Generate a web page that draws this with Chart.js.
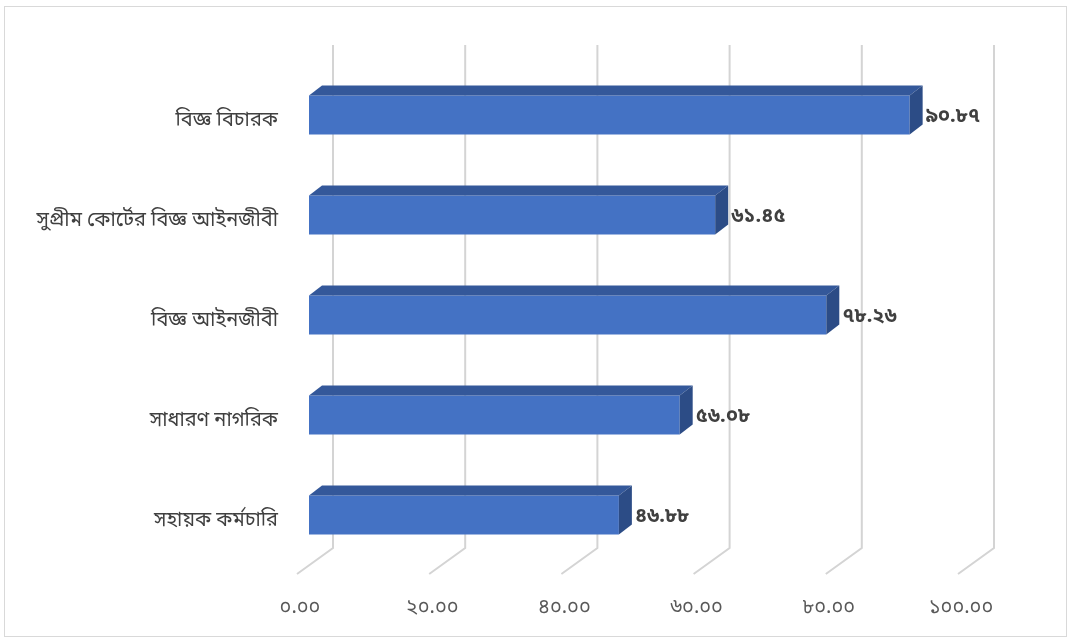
<!DOCTYPE html>
<html>
<head>
<meta charset="utf-8">
<script src="https://cdn.jsdelivr.net/npm/chart.js@4.4.1/dist/chart.umd.min.js"></script>
<style>
  html, body { margin: 0; padding: 0; background: #fff; }
  #wrap { width: 1070px; height: 642px; }
</style>
</head>
<body>
<div id="wrap"><canvas id="myChart" width="1070" height="642"></canvas></div>
<script>
var categories = ['বিজ্ঞ বিচারক', 'সুপ্রীম কোর্টের বিজ্ঞ আইনজীবী', 'বিজ্ঞ আইনজীবী', 'সাধারণ নাগরিক', 'সহায়ক কর্মচারি'];
var values = [90.87, 61.45, 78.26, 56.08, 46.88];
var tickLabels = ['০.০০', '২০.০০', '৪০.০০', '৬০.০০', '৮০.০০', '১০০.০০'];

var FONT = '"Noto Sans Bengali", "Noto Sans", "DejaVu Sans", sans-serif';
var bnDigits = '০১২৩৪৫৬৭৮৯';
function toBn(s) {
  return String(s).replace(/[0-9]/g, function (d) { return bnDigits[+d]; });
}

// depth of the 3d look
var DX = 13, DY = -10;

var frame3d = {
  id: 'frame3d',
  beforeDraw: function (chart) {
    var ctx = chart.ctx;
    ctx.save();
    ctx.strokeStyle = '#d9d9d9';
    ctx.lineWidth = 1;
    ctx.strokeRect(4.5, 6.5, 1062, 630);
    ctx.restore();
  },
  beforeDatasetsDraw: function (chart) {
    var ctx = chart.ctx;
    var xs = chart.scales.x;
    var area = chart.chartArea;
    ctx.save();
    ctx.strokeStyle = '#d4d4d4';
    ctx.lineWidth = 2;
    xs.ticks.forEach(function (t) {
      var px = xs.getPixelForValue(t.value);
      ctx.beginPath();
      ctx.moveTo(px + 24, area.top - 20);
      ctx.lineTo(px + 24, area.bottom - 17);
      ctx.lineTo(px - 12, area.bottom + 9);
      ctx.stroke();
    });
    ctx.restore();
  },
  afterDatasetsDraw: function (chart) {
    var ctx = chart.ctx;
    var meta = chart.getDatasetMeta(0);
    ctx.save();
    meta.data.forEach(function (bar, i) {
      var top = bar.y - bar.height / 2;
      var bottom = bar.y + bar.height / 2;
      // top face
      ctx.fillStyle = '#34589a';
      ctx.beginPath();
      ctx.moveTo(bar.base, top);
      ctx.lineTo(bar.base + DX, top + DY);
      ctx.lineTo(bar.x + DX, top + DY);
      ctx.lineTo(bar.x, top);
      ctx.closePath();
      ctx.fill();
      // side face
      ctx.fillStyle = '#2c4c86';
      ctx.beginPath();
      ctx.moveTo(bar.x, top);
      ctx.lineTo(bar.x + DX, top + DY);
      ctx.lineTo(bar.x + DX, bottom + DY);
      ctx.lineTo(bar.x, bottom);
      ctx.closePath();
      ctx.fill();
      // value label
      ctx.fillStyle = '#404040';
      ctx.font = 'bold 20px ' + FONT;
      ctx.textAlign = 'left';
      ctx.textBaseline = 'middle';
      ctx.fillText(toBn(values[i].toFixed(2)), bar.x + DX + 3, bar.y + 3);
    });
    ctx.restore();
  }
};

var ctx = document.getElementById('myChart').getContext('2d');
var myChart = new Chart(ctx, {
  type: 'bar',
  data: {
    labels: categories,
    datasets: [{
      data: values,
      backgroundColor: '#4472c4',
      borderWidth: 0,
      barPercentage: 0.39,
      categoryPercentage: 1
    }]
  },
  options: {
    indexAxis: 'y',
    responsive: false,
    animation: false,
    layout: { padding: { left: 0, right: 100, top: 65, bottom: 0 } },
    plugins: {
      legend: { display: false },
      tooltip: { enabled: false }
    },
    scales: {
      x: {
        min: 0,
        max: 100,
        grid: { display: false, drawTicks: false },
        border: { display: false },
        afterFit: function (scale) { scale.height = 77; },
        ticks: {
          stepSize: 20,
          padding: 32,
          labelOffset: -9,
          color: '#595959',
          font: { family: FONT, size: 20 },
          callback: function (v, i) { return tickLabels[i]; }
        }
      },
      y: {
        grid: { display: false, drawTicks: false },
        border: { display: false },
        afterFit: function (scale) { scale.width = 309; },
        ticks: {
          padding: 31,
          labelOffset: 7,
          color: '#404040',
          font: { family: FONT, size: 20 }
        }
      }
    }
  },
  plugins: [frame3d]
});
</script>
</body>
</html>
